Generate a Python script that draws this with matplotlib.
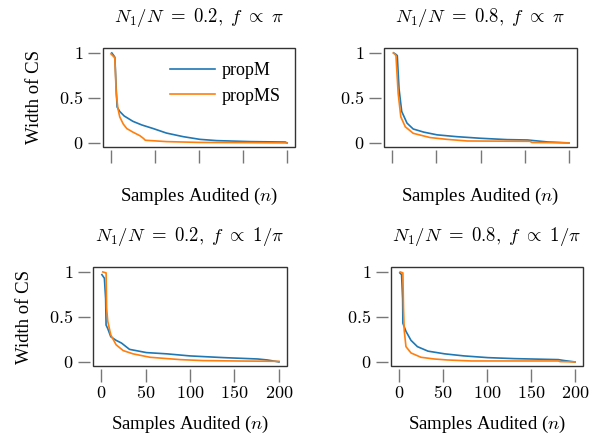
import matplotlib
matplotlib.use('Agg')
from matplotlib import pyplot as plt
from matplotlib.patches import Rectangle
from matplotlib.ticker import FuncFormatter
import numpy as np

plt.rcParams['font.family'] = ['Liberation Serif', 'DejaVu Serif']
plt.rcParams['mathtext.fontset'] = 'cm'

# values: (n, width of CS)
tl_m_n = [1, 4, 4.5, 6, 7, 10, 15, 25, 35, 48, 63, 82, 101, 120, 158, 198, 200]
tl_m_w = [1.0, 0.96, 0.95, 0.6, 0.40, 0.35, 0.30, 0.24, 0.20, 0.16, 0.11, 0.07, 0.04, 0.026, 0.015, 0.01, 0.0]
tl_s_n = [0, 4, 4.5, 6, 8, 10, 14, 18, 25, 33, 37, 39, 63, 100, 150, 200]
tl_s_w = [0.99, 0.95, 0.93, 0.55, 0.38, 0.29, 0.21, 0.16, 0.12, 0.08, 0.05, 0.03, 0.015, 0.006, 0.004, 0.0]

tr_m_n = [2, 5, 6, 8, 11, 17, 24, 36, 51, 73, 100, 130, 153, 176, 190, 200]
tr_m_w = [1.0, 0.98, 0.97, 0.6, 0.35, 0.22, 0.155, 0.12, 0.09, 0.07, 0.052, 0.037, 0.033, 0.011, 0.005, 0.0]
tr_s_n = [1.5, 4, 4.5, 7, 10, 15, 24, 43, 62, 85, 120, 156, 158, 180, 200]
tr_s_w = [1.0, 0.98, 0.97, 0.55, 0.29, 0.18, 0.107, 0.06, 0.04, 0.022, 0.02, 0.018, 0.005, 0.003, 0.0]

bl_m_n = [1, 3.8, 5.2, 5.7, 7.6, 11, 17, 23, 32, 51, 74, 100, 138, 176, 187, 200]
bl_m_w = [0.97, 0.93, 0.70, 0.41, 0.37, 0.28, 0.24, 0.21, 0.14, 0.104, 0.09, 0.067, 0.048, 0.033, 0.022, 0.0]
bl_s_n = [2, 5.7, 6.3, 7.6, 11, 17, 25, 36, 55, 89, 115, 160, 200]
bl_s_w = [1.0, 0.99, 0.60, 0.45, 0.30, 0.19, 0.126, 0.09, 0.052, 0.026, 0.015, 0.01, 0.007]

br_m_n = [1, 3, 4.2, 4.5, 8, 13.7, 21, 33, 52, 74, 101, 131, 181, 188, 200]
br_m_w = [0.99, 0.97, 0.7, 0.43, 0.34, 0.24, 0.17, 0.12, 0.09, 0.067, 0.048, 0.037, 0.026, 0.015, 0.0]
br_s_n = [1.5, 4.5, 5.2, 6, 8, 13.7, 25, 40, 55, 82, 181, 183, 200]
br_s_w = [1.0, 0.99, 0.6, 0.35, 0.17, 0.10, 0.052, 0.033, 0.022, 0.011, 0.011, 0.004, 0.0]

titles = [r'$N_1/N\ =\ 0.2,\; f\ \propto\ \pi$', r'$N_1/N\ =\ 0.8,\; f\ \propto\ \pi$',
          r'$N_1/N\ =\ 0.2,\; f\ \propto\ 1/\pi$', r'$N_1/N\ =\ 0.8,\; f\ \propto\ 1/\pi$']
xticks = [0, 50, 100, 150, 200]
yticks = [0, 0.5, 1]

blue = '#1f77b4'
orange = '#ff7f0e'

fig = plt.figure(figsize=(5.99, 4.38), dpi=100)
W, H = 599.0, 438.0
# axes boxes in pixels: left, top, right, bottom
boxes = [(103, 48, 295, 147), (384, 48, 577, 147), (93, 267, 287, 366), (391, 267, 583, 366)]
series = [(tl_m_n, tl_m_w, tl_s_n, tl_s_w), (tr_m_n, tr_m_w, tr_s_n, tr_s_w),
          (bl_m_n, bl_m_w, bl_s_n, bl_s_w), (br_m_n, br_m_w, br_s_n, br_s_w)]

fmt = FuncFormatter(lambda v, p: '$%g$' % v)

for i, (b, s) in enumerate(zip(boxes, series)):
    l, t, r, btm = b
    ax = fig.add_axes([l / W, 1 - btm / H, (r - l) / W, (btm - t) / H])
    ax.plot(s[0], s[1], color=blue, lw=1.2, label='propM')
    ax.plot(s[2], s[3], color=orange, lw=1.2, label='propMS')
    ax.set_xlim(-9, 209)
    ax.set_ylim(-0.045, 1.055)
    ax.set_xticks(xticks)
    ax.set_yticks(yticks)
    ax.xaxis.set_major_formatter(fmt)
    ax.yaxis.set_major_formatter(fmt)
    for side in ['top', 'right']:
        ax.spines[side].set_visible(False)
    for side in ['left', 'bottom']:
        ax.spines[side].set_position(('outward', 2))
        ax.spines[side].set_color('none')
    ax.add_patch(Rectangle((0, 0), 1, 1, transform=ax.transAxes, fill=False,
                           ec='#333333', lw=1.0, clip_on=False, zorder=5))
    ax.tick_params(direction='out', length=9, width=1, color='#777777',
                   labelsize=13, pad=3)
    ax.set_title(titles[i], fontsize=13.5, pad=19)
    if i < 2:
        ax.tick_params(axis='x', labelbottom=False)
        ax.set_xlabel(r'Samples Audited ($n$)', fontsize=13.5, labelpad=17)
    else:
        ax.set_xlabel(r'Samples Audited ($n$)', fontsize=13.5, labelpad=8)
    if i % 2 == 0:
        ax.set_ylabel('Width of CS', fontsize=13.5, labelpad=12)
    if i == 0:
        ax.legend(loc='upper right', frameon=False, fontsize=13, handlelength=2.5,
                  handletextpad=0.35, borderaxespad=0.4, labelspacing=0.45)

fig.savefig('out.png', dpi=100)
